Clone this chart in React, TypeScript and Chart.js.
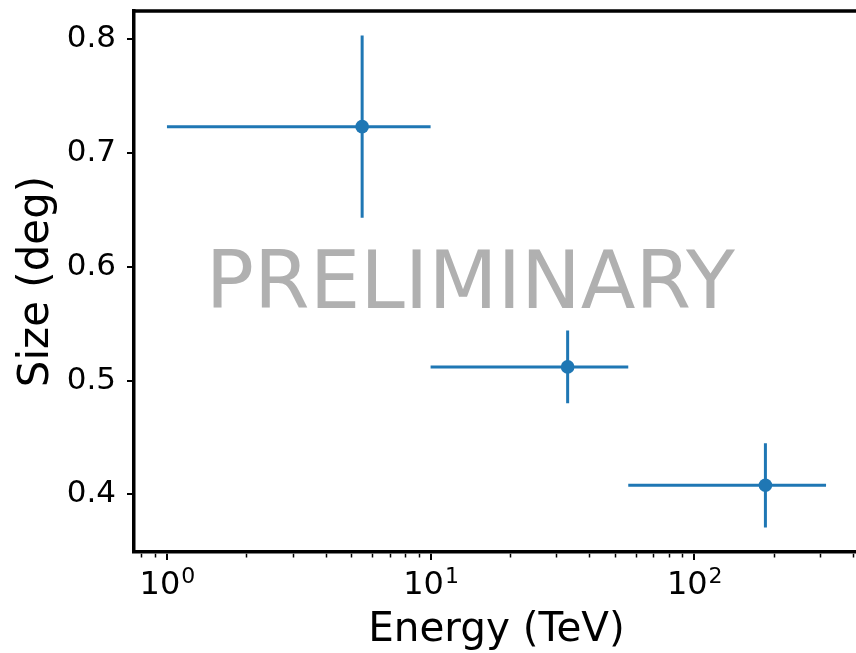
import React, { useEffect, useRef } from "react";
import { Chart, registerables } from "chart.js";

Chart.register(...registerables);

// Energy bins (TeV) and measured source size (deg)
const energy = [5.5, 33.1, 186.2];
const binLow = [1, 10, 56.2];
const binHigh = [10, 56.2, 316.2];
const size = [0.723, 0.512, 0.408];
const sizeErr = [0.08, 0.032, 0.037];

// Axis ticks
const xMajorTicks = [1, 10, 100];
const xTickBase = "10";
const xTickExponents = ["0", "1", "2"];
const xMinorTicks = [0.8, 0.9, 2, 3, 4, 5, 6, 7, 8, 9, 20, 30, 40, 50, 60, 70, 80, 90, 200, 300, 400];
const yTickStep = 0.1;

const xTitle = "Energy (TeV)";
const yTitle = "Size (deg)";
const watermark = "PRELIMINARY";

const FONT = "'DejaVu Sans', sans-serif";
const BLUE = "#1f77b4";

const W = 856;
const H = 653;
const CANVAS_W = 862;
const AREA_LEFT = 134;
const AREA_RIGHT = 859;
const AREA_TOP = 11;
const AREA_BOTTOM = 552;
const SPINE = 3.5;

// 5% padding on each side, like matplotlib's autoscale margins
const logLo = Math.log10(Math.min(...binLow));
const logHi = Math.log10(Math.max(...binHigh));
const logPad = (logHi - logLo) * 0.05;
const X_MIN = Math.pow(10, logLo - logPad);
const X_MAX = Math.pow(10, logHi + logPad);
const yLo = Math.min(...size.map((v, i) => v - sizeErr[i]));
const yHi = Math.max(...size.map((v, i) => v + sizeErr[i]));
const yPad = (yHi - yLo) * 0.05;
const Y_MIN = yLo - yPad;
const Y_MAX = yHi + yPad;

const errorBars = {
  id: "errorBars",
  beforeDatasetsDraw(chart: any) {
    const { ctx, scales } = chart;
    const xs = scales.x;
    const ys = scales.y;
    ctx.save();
    ctx.strokeStyle = BLUE;
    ctx.lineWidth = 3;
    ctx.lineCap = "butt";
    energy.forEach((e, i) => {
      const px = xs.getPixelForValue(e);
      const py = ys.getPixelForValue(size[i]);
      ctx.beginPath();
      ctx.moveTo(xs.getPixelForValue(binLow[i]), py);
      ctx.lineTo(xs.getPixelForValue(binHigh[i]), py);
      ctx.moveTo(px, ys.getPixelForValue(size[i] + sizeErr[i]));
      ctx.lineTo(px, ys.getPixelForValue(size[i] - sizeErr[i]));
      ctx.stroke();
    });
    ctx.restore();
  },
};

const frame = {
  id: "frame",
  afterDraw(chart: any) {
    const { ctx, chartArea, scales } = chart;
    const xs = scales.x;
    const { left, right, top, bottom } = chartArea;
    ctx.save();

    // top and right spines
    ctx.strokeStyle = "#000";
    ctx.lineWidth = SPINE;
    ctx.beginPath();
    ctx.moveTo(left - SPINE / 2, top);
    ctx.lineTo(right + SPINE / 2, top);
    ctx.moveTo(right, top);
    ctx.lineTo(right, bottom);
    ctx.stroke();

    // x tick marks
    ctx.lineWidth = 2;
    xMajorTicks.forEach((v) => {
      const px = Math.round(xs.getPixelForValue(v));
      ctx.beginPath();
      ctx.moveTo(px, bottom + SPINE / 2);
      ctx.lineTo(px, bottom + 8);
      ctx.stroke();
    });
    ctx.lineWidth = 1.5;
    xMinorTicks.forEach((v) => {
      const px = Math.round(xs.getPixelForValue(v)) + 0.5;
      ctx.beginPath();
      ctx.moveTo(px, bottom + SPINE / 2);
      ctx.lineTo(px, bottom + 5.5);
      ctx.stroke();
    });

    // x tick labels: base with superscript exponent
    ctx.fillStyle = "#000";
    ctx.textBaseline = "alphabetic";
    ctx.textAlign = "left";
    xMajorTicks.forEach((v, i) => {
      const px = xs.getPixelForValue(v);
      ctx.font = `32px ${FONT}`;
      const wb = ctx.measureText(xTickBase).width;
      ctx.font = `22px ${FONT}`;
      const we = ctx.measureText(xTickExponents[i]).width;
      const x0 = px - (wb + we) / 2;
      ctx.font = `32px ${FONT}`;
      ctx.fillText(xTickBase, x0, bottom + 42);
      ctx.font = `22px ${FONT}`;
      ctx.fillText(xTickExponents[i], x0 + wb + 1, bottom + 31);
    });

    // axis titles
    ctx.font = `40.5px ${FONT}`;
    ctx.textAlign = "center";
    ctx.fillText(xTitle, (left + right) / 2, H - 12);
    ctx.save();
    ctx.font = `42px ${FONT}`;
    ctx.translate(48, (top + bottom) / 2);
    ctx.rotate(-Math.PI / 2);
    ctx.fillText(yTitle, 0, 0);
    ctx.restore();

    // watermark
    ctx.font = `80px ${FONT}`;
    ctx.fillStyle = "rgba(128,128,128,0.62)";
    ctx.textAlign = "center";
    ctx.fillText(watermark, left + (right - left) * 0.464, top + (bottom - top) * 0.549);

    ctx.restore();
  },
};

export default function App() {
  const ref = useRef<HTMLCanvasElement | null>(null);

  useEffect(() => {
    if (!ref.current) return;
    const chart = new Chart(ref.current, {
      type: "scatter",
      data: {
        datasets: [
          {
            data: energy.map((e, i) => ({ x: e, y: size[i] })),
            backgroundColor: BLUE,
            borderColor: BLUE,
            borderWidth: 0,
            pointRadius: 6.8,
            pointHoverRadius: 6.8,
            showLine: false,
          },
        ],
      },
      options: {
        responsive: false,
        animation: false,
        events: [],
        layout: {
          autoPadding: false,
          padding: { left: 0, top: AREA_TOP, right: CANVAS_W - AREA_RIGHT, bottom: 0 },
        },
        plugins: {
          legend: { display: false },
          tooltip: { enabled: false },
        },
        scales: {
          x: {
            type: "logarithmic",
            position: "bottom",
            bounds: "data",
            min: X_MIN,
            max: X_MAX,
            ticks: { display: false },
            grid: { display: false },
            border: { display: true, color: "#000", width: SPINE },
            afterBuildTicks: (s: any) => {
              s.min = X_MIN;
              s.max = X_MAX;
            },
            afterFit: (s: any) => {
              s.height = H - AREA_BOTTOM;
              s.paddingLeft = 0;
              s.paddingRight = 0;
              s.paddingTop = 0;
              s.paddingBottom = 0;
            },
          },
          y: {
            type: "linear",
            position: "left",
            min: Y_MIN,
            max: Y_MAX,
            ticks: {
              stepSize: yTickStep,
              includeBounds: false,
              color: "#000",
              padding: 11,
              font: { family: FONT, size: 31 },
              callback: (v: any) => Number(v).toFixed(1),
            },
            grid: {
              display: true,
              drawOnChartArea: false,
              drawTicks: true,
              tickLength: 7,
              color: "#000",
              lineWidth: 2,
            },
            border: { display: true, color: "#000", width: SPINE },
            afterFit: (s: any) => {
              s.width = AREA_LEFT;
              s.paddingLeft = 0;
              s.paddingRight = 0;
              s.paddingTop = 0;
              s.paddingBottom = 0;
            },
          },
        },
      },
      plugins: [errorBars, frame],
    });
    return () => chart.destroy();
  }, []);

  return (
    <div
      style={{
        position: "fixed",
        left: 0,
        top: 0,
        width: W,
        height: H,
        overflow: "hidden",
        background: "#fff",
      }}
    >
      <canvas ref={ref} width={CANVAS_W} height={H} style={{ width: CANVAS_W, height: H, display: "block" }} />
    </div>
  );
}
